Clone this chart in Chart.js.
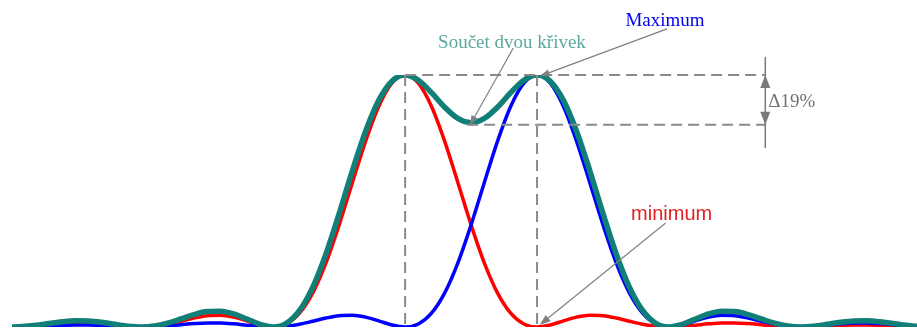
<!DOCTYPE html>
<html>
<head>
<meta charset="utf-8">
<script src="https://cdn.jsdelivr.net/npm/chart.js@4.4.1/dist/chart.umd.min.js"></script>
<style>
  html, body { margin: 0; padding: 0; background: #fff; }
  #obal { width: 917px; height: 331px; }
</style>
</head>
<body>
<div id="obal"><canvas id="graf" width="917" height="331"></canvas></div>
<script>
//--------------------------------------------------
// DATA (poloha v násobcích vzdálenosti minim)
//--------------------------------------------------
const posuny = [
  -3.0, -2.9, -2.8, -2.7, -2.6, -2.5, -2.4, -2.3, -2.2, -2.1,
  -2.0, -1.9, -1.8, -1.7, -1.6, -1.5, -1.4, -1.3, -1.2, -1.1,
  -1.0, -0.9, -0.8, -0.7, -0.6, -0.5, -0.4, -0.3, -0.2, -0.1,
   0.0,  0.1,  0.2,  0.3,  0.4,  0.5,  0.6,  0.7,  0.8,  0.9,
   1.0,  1.1,  1.2,  1.3,  1.4,  1.5,  1.6,  1.7,  1.8,  1.9,
   2.0,  2.1,  2.2,  2.3,  2.4,  2.5,  2.6,  2.7,  2.8,  2.9,
   3.0,  3.1,  3.2,  3.3,  3.4,  3.5,  3.6,  3.7,  3.8,  3.9
];

const cervena = [
  0, .0012, .0045, .0091, .0136, .0162, .0159, .0125, .0072, .0022,
  0, .0027, .0108, .0230, .0358, .0450, .0468, .0392, .0243, .0080,
  0, .0119, .0547, .1353, .2546, .4053, .5728, .7368, .8751, .9675,
  1, .9675, .8751, .7368, .5728, .4053, .2546, .1353, .0547, .0119,
  0, .0080, .0243, .0392, .0468, .0450, .0358, .0230, .0108, .0027,
  0, .0022, .0072, .0125, .0159, .0162, .0136, .0091, .0045, .0012,
  0, .0010, .0034, .0061, .0079, .0083, .0071, .0048, .0024, .0006
];

const modra = [
  0, .0006, .0024, .0048, .0071, .0083, .0079, .0061, .0034, .0010,
  0, .0012, .0045, .0091, .0136, .0162, .0159, .0125, .0072, .0022,
  0, .0027, .0108, .0230, .0358, .0450, .0468, .0392, .0243, .0080,
  0, .0119, .0547, .1353, .2546, .4053, .5728, .7368, .8751, .9675,
  1, .9675, .8751, .7368, .5728, .4053, .2546, .1353, .0547, .0119,
  0, .0080, .0243, .0392, .0468, .0450, .0358, .0230, .0108, .0027,
  0, .0022, .0072, .0125, .0159, .0162, .0136, .0091, .0045, .0012
];

const soucet = [
  0, .0018, .0069, .0139, .0207, .0245, .0238, .0186, .0106, .0032,
  0, .0039, .0153, .0321, .0494, .0612, .0627, .0517, .0315, .0102,
  0, .0146, .0655, .1583, .2904, .4503, .6196, .7760, .8994, .9755,
  1, .9794, .9298, .8721, .8274, .8106, .8274, .8721, .9298, .9794,
  1, .9755, .8994, .7760, .6196, .4503, .2904, .1583, .0655, .0146,
  0, .0102, .0315, .0517, .0627, .0612, .0494, .0321, .0153, .0039,
  0, .0032, .0106, .0186, .0238, .0245, .0207, .0139, .0069, .0018
];

const popisky = {
  soucet: "Součet dvou křivek",
  maximum: "Maximum",
  minimum: "minimum",
  rozdil: "\u039419%"
};

const body = arr => arr.map((y, i) => ({ x: posuny[i], y }));

//--------------------------------------------------
// POPISKY A ŠIPKY
//--------------------------------------------------
function sipka(ctx, x1, y1, x2, y2, delka, sirka) {
  const uhel = Math.atan2(y2 - y1, x2 - x1);
  ctx.beginPath();
  ctx.moveTo(x1, y1);
  ctx.lineTo(x2 - Math.cos(uhel) * delka * 0.6, y2 - Math.sin(uhel) * delka * 0.6);
  ctx.stroke();
  ctx.beginPath();
  ctx.moveTo(x2, y2);
  ctx.lineTo(x2 - Math.cos(uhel) * delka + Math.sin(uhel) * sirka / 2,
             y2 - Math.sin(uhel) * delka - Math.cos(uhel) * sirka / 2);
  ctx.lineTo(x2 - Math.cos(uhel) * delka - Math.sin(uhel) * sirka / 2,
             y2 - Math.sin(uhel) * delka + Math.cos(uhel) * sirka / 2);
  ctx.closePath();
  ctx.fill();
}

const anotace = {
  id: "anotace",
  afterDatasetsDraw(chart) {
    const ctx = chart.ctx;
    const sx = v => chart.scales.x.getPixelForValue(v);
    const sy = v => chart.scales.y.getPixelForValue(v);
    const dip = soucet[35];
    const xd = 2.73;
    const yDip = sy(dip) + 2;

    ctx.save();
    // čárkované linky
    ctx.strokeStyle = "#8a8a8a";
    ctx.lineWidth = 2;
    ctx.setLineDash([11, 6]);
    ctx.beginPath();
    ctx.moveTo(sx(0), sy(1)); ctx.lineTo(sx(xd), sy(1));
    ctx.moveTo(sx(0.47), yDip); ctx.lineTo(sx(xd), yDip);
    ctx.moveTo(sx(0), sy(1)); ctx.lineTo(sx(0), sy(0));
    ctx.moveTo(sx(1), sy(1)); ctx.lineTo(sx(1), sy(0));
    ctx.stroke();
    ctx.setLineDash([]);

    // měřítko rozdílu
    ctx.strokeStyle = "#7a7a7a";
    ctx.fillStyle = "#7a7a7a";
    ctx.lineWidth = 1.5;
    ctx.beginPath();
    ctx.moveTo(sx(xd), sy(1.072)); ctx.lineTo(sx(xd), sy(0.71));
    ctx.stroke();
    const xa = sx(xd);
    [[sy(1), 1], [yDip, -1]].forEach(([yt, s]) => {
      ctx.beginPath();
      ctx.moveTo(xa, yt);
      ctx.lineTo(xa - 5, yt + s * 13);
      ctx.lineTo(xa + 5, yt + s * 13);
      ctx.closePath();
      ctx.fill();
    });

    // šipky k popiskům
    ctx.strokeStyle = "#808080";
    ctx.fillStyle = "#808080";
    ctx.lineWidth = 1.2;
    sipka(ctx, sx(0.82), sy(1.107), sx(0.49), sy(0.80), 10, 7);
    sipka(ctx, sx(1.985), sy(1.183), sx(1.02), sy(0.995), 10, 7);
    sipka(ctx, sx(1.975), sy(0.413), sx(1.02), sy(0.008), 11, 8);

    // texty
    ctx.textAlign = "center";
    ctx.textBaseline = "middle";
    ctx.font = "19px 'Liberation Serif'";
    ctx.fillStyle = "#5aa8a0";
    ctx.fillText(popisky.soucet, sx(0.81), sy(1.127));
    ctx.fillStyle = "#0000ee";
    ctx.fillText(popisky.maximum, sx(1.97), sy(1.214));
    ctx.font = "20px 'Liberation Sans'";
    ctx.fillStyle = "#e02020";
    ctx.fillText(popisky.minimum, sx(2.02), sy(0.448));
    ctx.textAlign = "left";
    ctx.font = "19px 'Liberation Serif'";
    ctx.fillStyle = "#727272";
    ctx.fillText(popisky.rozdil, sx(xd) + 3, sy(0.893));
    ctx.restore();
  }
};

//--------------------------------------------------
// GRAF
//--------------------------------------------------
new Chart(document.getElementById("graf"), {
  type: "line",
  data: {
    datasets: [
      { label: "součet", data: body(soucet), borderColor: "#0f7f78", borderWidth: 5.5 },
      { label: "modrá", data: body(modra), borderColor: "#0000ff", borderWidth: 3.5 },
      { label: "červená", data: body(cervena), borderColor: "#ff0000", borderWidth: 3.5 }
    ]
  },
  options: {
    responsive: false,
    animation: false,
    layout: { padding: { left: 12, right: 0, top: 75, bottom: 4 } },
    elements: {
      point: { radius: 0 },
      line: { cubicInterpolationMode: "monotone", fill: false }
    },
    scales: {
      x: { type: "linear", min: -2.98, max: 3.88, display: false },
      y: { min: 0, max: 1, display: false }
    },
    plugins: { legend: { display: false }, tooltip: { enabled: false } }
  },
  plugins: [anotace]
});
</script>
</body>
</html>
